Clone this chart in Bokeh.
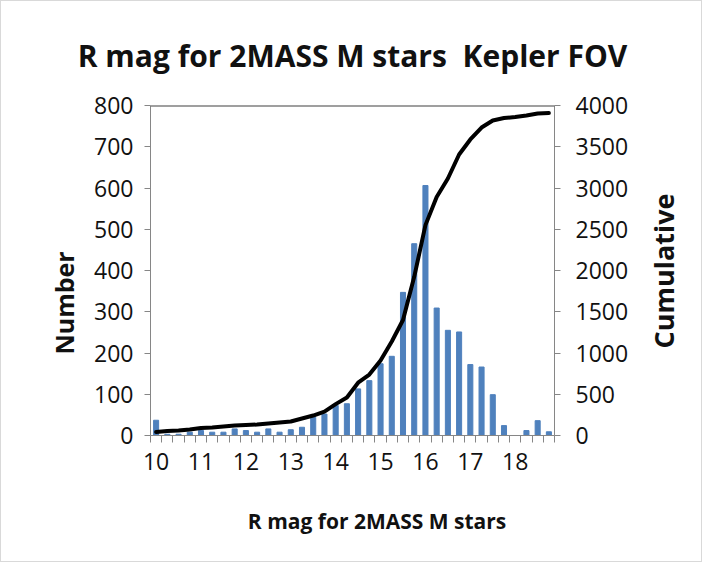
from bokeh.plotting import figure
from bokeh.models import Range1d, LinearAxis, FixedTicker, Span
from bokeh.embed import file_html
from bokeh.resources import INLINE
from math import pi

# R magnitude bins (0.25 mag wide)
mag_bins = [10.0, 10.25, 10.5, 10.75, 11.0, 11.25, 11.5, 11.75,
            12.0, 12.25, 12.5, 12.75, 13.0, 13.25, 13.5, 13.75,
            14.0, 14.25, 14.5, 14.75, 15.0, 15.25, 15.5, 15.75,
            16.0, 16.25, 16.5, 16.75, 17.0, 17.25, 17.5, 17.75,
            18.0, 18.25, 18.5, 18.75]

number = [37, 3, 3, 8, 12, 8, 8, 16, 12, 8, 16, 8,
          14, 20, 44, 52, 73, 77, 113, 133, 174, 192, 347, 465,
          606, 309, 255, 251, 172, 166, 99, 24, 0, 12, 36, 9]

cumulative = [42, 55, 60, 73, 91, 97, 109, 121, 127, 133, 145, 158,
              170, 206, 242, 290, 380, 460, 640, 739, 909, 1139, 1400, 1923,
              2550, 2891, 3115, 3406, 3588, 3733, 3818, 3848, 3860, 3879, 3903, 3909]

x_tick_labels = [10, 11, 12, 13, 14, 15, 16, 17, 18]
left_ticks = [0, 100, 200, 300, 400, 500, 600, 700, 800]
right_ticks = [0, 500, 1000, 1500, 2000, 2500, 3000, 3500, 4000]

bin_half = 0.125
bin_edges = [b - bin_half for b in mag_bins] + [mag_bins[-1] + bin_half]
x_lo, x_hi = bin_edges[0], bin_edges[-1]

FONT = "Open Sans"
TXT = "#111111"
AX = "#868686"
NB = "\u00a0"

p = figure(width=702, height=562, output_backend="svg", toolbar_location=None,
           x_range=Range1d(x_lo, x_hi), y_range=Range1d(0, 800),
           min_border_left=149, min_border_right=143, min_border_top=104,
           min_border_bottom=128)
p.styles = {"border": "1px solid #d9d9d9"}
p.extra_y_ranges = {"cum": Range1d(0, 4000)}
p.grid.visible = False
p.outline_line_color = None

p.title.text = "R mag for 2MASS M stars" + NB + " Kepler FOV"
p.title.align = "center"
p.title.text_font = FONT
p.title.text_font_size = "30px"
p.title.text_font_style = "bold"
p.title.text_color = TXT
p.title.standoff = 59

p.vbar(x=mag_bins, top=number, width=0.25 * 0.45, color="#4F81BD")
p.line(mag_bins, cumulative, y_range_name="cum", line_width=4, color="black",
       line_join="round", line_cap="round")

p.add_layout(Span(location=800, dimension="width", line_color="#404040", line_width=2))

def style_axis(ax):
    ax.axis_line_color = AX
    ax.major_tick_line_color = AX
    ax.minor_tick_line_color = AX
    ax.major_label_text_font = FONT
    ax.major_label_text_font_size = "23px"
    ax.major_label_text_color = TXT
    ax.axis_label_text_font = FONT
    ax.axis_label_text_font_size = "25px"
    ax.axis_label_text_font_style = "bold"
    ax.axis_label_text_color = TXT

# bottom axis
xa = p.xaxis[0]
xa.ticker = FixedTicker(ticks=x_tick_labels, minor_ticks=bin_edges)
style_axis(xa)
xa.axis_label_text_font_size = "21px"
xa.major_tick_in = 0
xa.major_tick_out = 0
xa.minor_tick_in = 0
xa.minor_tick_out = 7
xa.major_label_standoff = 10
xa.axis_label = NB * 9 + "R mag for 2MASS M stars"
xa.axis_label_standoff = 34

# left axis
ya = p.yaxis[0]
ya.ticker = FixedTicker(ticks=left_ticks)
style_axis(ya)
ya.major_tick_in = 0
ya.major_tick_out = 6
ya.minor_tick_out = 0
ya.minor_tick_in = 0
ya.major_label_standoff = 11
ya.axis_label = "Number" + NB * 10
ya.axis_label_standoff = 10

# right axis
ra = LinearAxis(y_range_name="cum", ticker=FixedTicker(ticks=right_ticks))
style_axis(ra)
ra.major_tick_in = 0
ra.major_tick_out = 6
ra.minor_tick_out = 0
ra.minor_tick_in = 0
ra.major_label_standoff = 15
p.add_layout(ra, "right")

# right axis title, reading bottom-to-top, placed through a single-tick axis
title_anchor = 1055
ta = LinearAxis(y_range_name="cum", ticker=FixedTicker(ticks=[title_anchor]),
                major_label_overrides={title_anchor: "Cumulative"})
ta.axis_line_color = None
ta.major_tick_line_color = None
ta.minor_tick_line_color = None
ta.major_tick_in = 0
ta.major_tick_out = 0
ta.major_label_text_font = FONT
ta.major_label_text_font_size = "27px"
ta.major_label_text_font_style = "bold"
ta.major_label_text_color = TXT
ta.major_label_orientation = pi / 2
ta.major_label_standoff = 32
p.add_layout(ta, "right")

open("out.html", "w").write(file_html(p, INLINE))
